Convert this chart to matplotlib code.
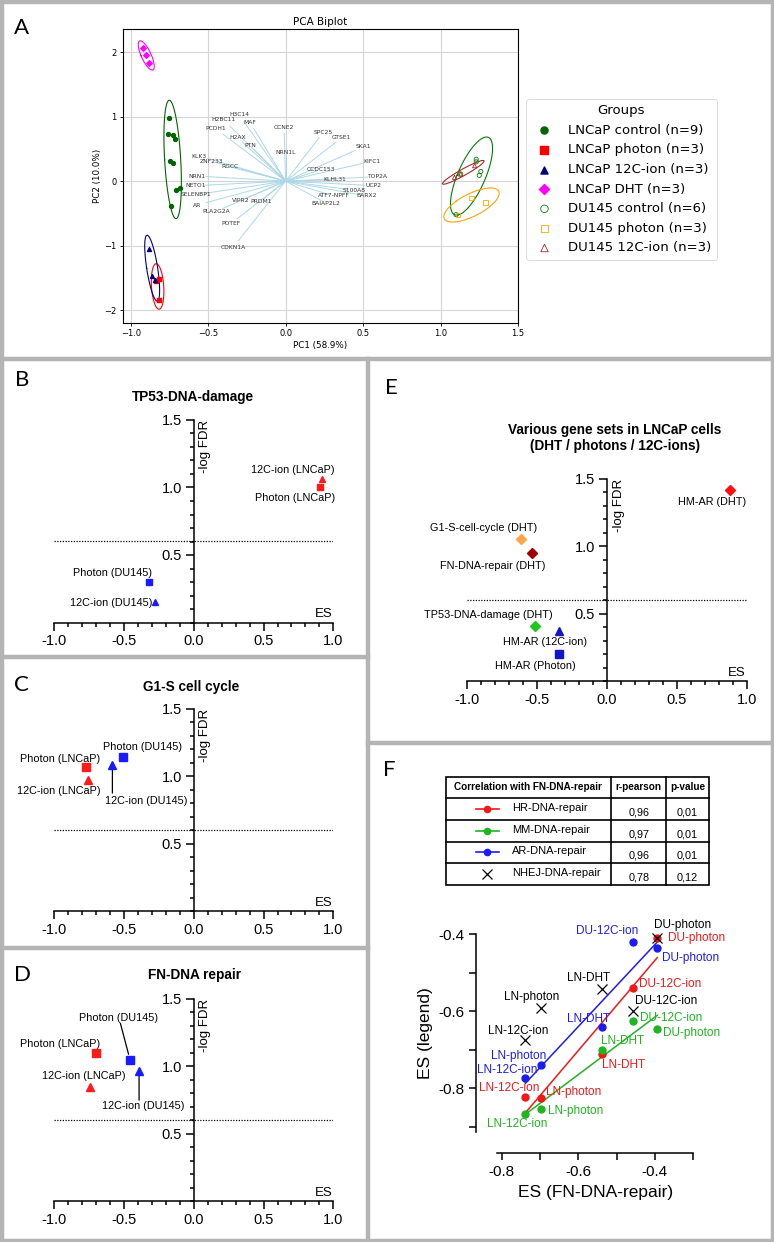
import numpy as np
import matplotlib
matplotlib.use('Agg')
import matplotlib.pyplot as plt
from matplotlib.lines import Line2D
from matplotlib.patches import Rectangle
from matplotlib.ticker import MultipleLocator

W, H = 774, 1242
ARIAL = 'Liberation Sans'
LETTER = ['Lato', 'Open Sans', 'DejaVu Sans']

# ---------------- panel A : PCA biplot ----------------
ln_ctrl_x = [-0.75, -0.76, -0.73, -0.715, -0.745, -0.73, -0.71, -0.685, -0.74]
ln_ctrl_y = [0.98, 0.73, 0.72, 0.65, 0.31, 0.28, -0.14, -0.11, -0.39]
ln_photon_x = [-0.82, -0.84, -0.82]
ln_photon_y = [-1.51, -1.55, -1.84]
ln_ion_x = [-0.88, -0.86, -0.845]
ln_ion_y = [-1.05, -1.47, -1.53]
ln_dht_x = [-0.92, -0.90, -0.88]
ln_dht_y = [2.06, 1.96, 1.83]
du_ctrl_x = [1.23, 1.23, 1.26, 1.25, 1.13, 1.10]
du_ctrl_y = [0.34, 0.30, 0.15, 0.09, 0.11, -0.52]
du_photon_x = [1.20, 1.29, 1.11]
du_photon_y = [-0.26, -0.33, -0.52]
du_ion_x = [1.22, 1.13, 1.09]
du_ion_y = [0.24, 0.11, 0.06]

gene_names = ['H3C14', 'H2BC11', 'MAF', 'PCDH1', 'H2AX', 'PTN', 'CCNE2', 'NRN1L',
              'SPC25', 'GTSE1', 'SKA1', 'KIFC1', 'CCDC153', 'TOP2A', 'KLHL31', 'UCP2',
              'S100A8', 'BARX2', 'ATF7-NPFF', 'BAIAP2L2', 'KLK3', 'ZNF233', 'RGCC',
              'NRN1', 'NETO1', 'SELENBP1', 'AR', 'PLA2G2A', 'VIPR2', 'PRDM1', 'POTEF',
              'CDKN1A']
gene_x = [-0.30, -0.40, -0.23, -0.45, -0.31, -0.23, -0.01, 0.00, 0.24, 0.36, 0.50,
          0.56, 0.23, 0.59, 0.32, 0.57, 0.44, 0.52, 0.31, 0.26, -0.56, -0.48, -0.36,
          -0.57, -0.58, -0.58, -0.57, -0.45, -0.29, -0.16, -0.35, -0.34]
gene_y = [1.03, 0.95, 0.91, 0.81, 0.67, 0.55, 0.83, 0.44, 0.75, 0.67, 0.53, 0.31,
          0.18, 0.07, 0.02, -0.07, -0.14, -0.23, -0.23, -0.34, 0.39, 0.31, 0.22, 0.08,
          -0.07, -0.21, -0.37, -0.47, -0.30, -0.31, -0.65, -1.03]

# ---------------- panels B, C, D ----------------
bcd_labels = ['Photon (LNCaP)', '12C-ion (LNCaP)', 'Photon (DU145)', '12C-ion (DU145)']
b_es = [0.905, 0.915, -0.317, -0.28]
b_fdr = [1.00, 1.06, 0.30, 0.155]
c_es = [-0.771, -0.76, -0.506, -0.582]
c_fdr = [1.067, 0.975, 1.143, 1.087]
d_es = [-0.697, -0.74, -0.456, -0.391]
d_fdr = [1.097, 0.847, 1.047, 0.965]

# ---------------- panel E ----------------
e_labels = ['HM-AR (DHT)', 'G1-S-cell-cycle (DHT)', 'FN-DNA-repair (DHT)',
            'TP53-DNA-damage (DHT)', 'HM-AR (12C-ion)', 'HM-AR (Photon)']
e_es = [0.878, -0.618, -0.535, -0.513, -0.341, -0.341]
e_fdr = [1.414, 1.054, 0.951, 0.411, 0.372, 0.20]

# ---------------- panel F ----------------
f_sets = ['HR-DNA-repair', 'MM-DNA-repair', 'AR-DNA-repair', 'NHEJ-DNA-repair']
f_r = ['0,96', '0,97', '0,96', '0,78']
f_p = ['0,01', '0,01', '0,01', '0,12']
f_samples = ['LN-12C-ion', 'LN-photon', 'LN-DHT', 'DU-12C-ion', 'DU-photon']
f_fn = [-0.738, -0.698, -0.539, -0.457, -0.394]
f_hr = [-0.823, -0.825, -0.712, -0.540, -0.410]
f_mm = [-0.868, -0.855, -0.700, -0.625, -0.648]
f_ar = [-0.775, -0.741, -0.642, -0.422, -0.437]
f_nhej = [-0.675, -0.591, -0.542, -0.599, -0.410]

fig = plt.figure(figsize=(W / 100, H / 100), dpi=100)


def conf_ellipse(x, y, n_std=1.95):
    # covariance ellipse, with a small floor so 3-point groups are not flat
    cov = np.cov(x, y) + np.eye(2) * 3e-4
    vals, vecs = np.linalg.eigh(cov)
    t = np.linspace(0, 2 * np.pi, 120)
    circ = np.vstack([np.cos(t), np.sin(t)])
    pts = vecs @ (np.sqrt(vals)[:, None] * circ) * n_std
    return np.mean(x) + pts[0], np.mean(y) + pts[1]


# ===== A =====
axA = fig.add_axes([123 / W, 1 - 323 / H, 395 / W, 294 / H])
axA.set_xlim(-1.05, 1.5)
axA.set_ylim(-2.2, 2.36)
axA.grid(True, color='#d4d4d4', lw=0.8)
axA.set_axisbelow(True)
axA.set_xticks([-1.0, -0.5, 0.0, 0.5, 1.0, 1.5])
axA.set_yticks([-2, -1, 0, 1, 2])
axA.tick_params(labelsize=6, length=2.5, width=0.6, pad=2)
for s in axA.spines.values():
    s.set_linewidth(0.8)
axA.set_title('PCA Biplot', fontsize=7.5, pad=3)
axA.set_xlabel('PC1 (58.9%)', fontsize=6.3, labelpad=2)
axA.set_ylabel('PC2 (10.0%)', fontsize=6.3, labelpad=2)

for g, gx, gy in zip(gene_names, gene_x, gene_y):
    axA.plot([0, 0.9 * gx], [0, 0.9 * gy], color='lightblue', lw=0.7, zorder=1)
    axA.text(gx, gy, g, fontsize=4.3, ha='center', va='center', color='#333333', zorder=2)

groups = [
    ('LNCaP control (n=9)', ln_ctrl_x, ln_ctrl_y, 'o', 'darkgreen', True),
    ('LNCaP photon (n=3)', ln_photon_x, ln_photon_y, 's', 'red', True),
    ('LNCaP 12C-ion (n=3)', ln_ion_x, ln_ion_y, '^', 'navy', True),
    ('LNCaP DHT (n=3)', ln_dht_x, ln_dht_y, 'D', 'magenta', True),
    ('DU145 control (n=6)', du_ctrl_x, du_ctrl_y, 'o', 'green', False),
    ('DU145 photon (n=3)', du_photon_x, du_photon_y, 's', 'orange', False),
    ('DU145 12C-ion (n=3)', du_ion_x, du_ion_y, '^', 'brown', False),
]
handles = []
for name, gx, gy, m, c, filled in groups:
    ex, ey = conf_ellipse(gx, gy)
    axA.plot(ex, ey, color=c, lw=0.8, zorder=3)
    if filled:
        h = axA.scatter(gx, gy, marker=m, s=8, color=c, zorder=4, label=name)
    else:
        h = axA.scatter(gx, gy, marker=m, s=9, facecolors='none', edgecolors=c,
                        linewidths=0.6, zorder=4, label=name)
    handles.append(h)
leg = axA.legend(handles=handles, loc='upper left', bbox_to_anchor=(526 / W, 1 - 99 / H),
                 bbox_transform=fig.transFigure, title='Groups', fontsize=9.5,
                 title_fontsize=9.5, markerscale=1.8, borderaxespad=0, frameon=True)
leg.get_frame().set_linewidth(0.6)

fig.text(22 / W, 1 - 28 / H, 'A', fontsize=16, family=LETTER, ha='center', va='center')


# ===== B - E : enrichment plots =====
def gsea_panel(px_left, py_zero, title, title_xy, letter, letter_xy):
    ax = fig.add_axes([px_left / W, 1 - py_zero / H, 279.4 / W, 202.5 / H])
    ax.set_xlim(-1, 1)
    ax.set_ylim(0, 1.5)
    ax.patch.set_visible(False)
    ax.spines['top'].set_visible(False)
    ax.spines['right'].set_visible(False)
    ax.spines['left'].set_position(('data', 0))
    ax.spines['left'].set_linewidth(1.1)
    ax.spines['bottom'].set_linewidth(1.1)
    xt = [-1.0, -0.5, 0.0, 0.5, 1.0]
    yt = [0.5, 1.0, 1.5]
    ax.set_xticks(xt)
    ax.set_xticklabels([f'{v:.1f}' for v in xt])
    ax.set_yticks(yt)
    ax.set_yticklabels([f'{v:.1f}' for v in yt])
    ax.xaxis.set_minor_locator(MultipleLocator(0.1))
    ax.yaxis.set_minor_locator(MultipleLocator(0.1))
    ax.tick_params(which='major', length=5.5, width=1.1, labelsize=10.5,
                   labelfontfamily=ARIAL, pad=3)
    ax.tick_params(which='minor', length=3, width=1.1)
    ax.axhline(-np.log10(0.25), color='black', lw=0.9, ls=(0, (1, 1.2)))
    ax.text(0.04, 1.5, '-log FDR', rotation=90, ha='left', va='top', fontsize=9.5,
            family=ARIAL)
    ax.text(0.995, 0.015, 'ES', ha='right', va='bottom', fontsize=9.5, family=ARIAL)
    fig.text(title_xy[0] / W, 1 - title_xy[1] / H, title, ha='center', va='center',
             fontsize=9.8, fontweight='bold', family=ARIAL, linespacing=1.2)
    fig.text(letter_xy[0] / W, 1 - letter_xy[1] / H, letter, ha='center', va='center',
             fontsize=16, family=LETTER)
    return ax


RED, BLUE = '#ff1a1a', '#1a1aff'
bcd_markers = ['s', '^', 's', '^']
bcd_colors = [RED, RED, BLUE, BLUE]


def draw_points(ax, xs, ys, markers, colors, ms):
    for x, y, m, c in zip(xs, ys, markers, colors):
        ax.plot([x], [y], marker=m, color=c, ms=ms, ls='none', clip_on=False, zorder=5)


# B
axB = gsea_panel(54, 622.5, 'TP53-DNA-damage', (193, 397), 'B', (22, 380))
draw_points(axB, b_es, b_fdr, bcd_markers, bcd_colors, 5)
b_lab_pos = [(1.015, 0.92), (1.01, 1.13), (-0.298, 0.364), (-0.298, 0.143)]
for lab, (lx, ly) in zip(bcd_labels, b_lab_pos):
    axB.text(lx, ly, lab, ha='right', va='center', fontsize=7.8, family=ARIAL)

# C
axC = gsea_panel(54, 911.3, 'G1-S cell cycle', (191, 687), 'C', (21, 685))
draw_points(axC, c_es, c_fdr, bcd_markers, bcd_colors, 5.2)
c_lab_pos = [(-0.668, 1.129), (-0.668, 0.889), (-0.084, 1.215), (-0.043, 0.814)]
for lab, (lx, ly) in zip(bcd_labels, c_lab_pos):
    axC.text(lx, ly, lab, ha='right', va='center', fontsize=7.8, family=ARIAL)
axC.annotate('', xy=(c_es[3], c_fdr[3]), xytext=(c_es[3], 0.876),
             arrowprops=dict(arrowstyle='-', lw=0.9, color='black', shrinkA=0, shrinkB=4))

# D
axD = gsea_panel(54, 1201, 'FN-DNA repair', (194, 975), 'D', (22, 975))
draw_points(axD, d_es, d_fdr, bcd_markers, bcd_colors, 5.2)
d_lab_pos = [(-0.668, 1.163), (-0.489, 0.926), (-0.258, 1.359), (-0.067, 0.703)]
for lab, (lx, ly) in zip(bcd_labels, d_lab_pos):
    axD.text(lx, ly, lab, ha='right', va='center', fontsize=7.8, family=ARIAL)
axD.annotate('', xy=(d_es[2], d_fdr[2]), xytext=(-0.525, 1.317),
             arrowprops=dict(arrowstyle='-', lw=0.9, color='black', shrinkA=0, shrinkB=4))
axD.annotate('', xy=(d_es[3], d_fdr[3]), xytext=(d_es[3], 0.747),
             arrowprops=dict(arrowstyle='-', lw=0.9, color='black', shrinkA=0, shrinkB=4))

# E
axE = gsea_panel(467.3, 681.3, 'Various gene sets in LNCaP cells\n(DHT / photons / 12C-ions)',
                 (615, 438), 'E', (391, 388))
e_markers = ['D', 'D', 'D', 'D', '^', 's']
e_colors = ['#ff1010', '#ffa544', '#a00000', '#22c422', '#1414c8', '#1414c8']
e_ms = [4.6, 4.6, 4.6, 4.6, 6, 6]
for x, y, m, c, s in zip(e_es, e_fdr, e_markers, e_colors, e_ms):
    axE.plot([x], [y], marker=m, color=c, ms=s, ls='none', clip_on=False, zorder=5)
e_lab_pos = [(0.754, 1.325), (-0.883, 1.133), (-0.816, 0.852), (-0.847, 0.488),
             (-0.446, 0.293), (-0.511, 0.113)]
for lab, (lx, ly) in zip(e_labels, e_lab_pos):
    axE.text(lx, ly, lab, ha='center', va='center', fontsize=7.8, family=ARIAL)

# ===== F =====
fig.text(389 / W, 1 - 770 / H, 'F', fontsize=16, family=LETTER, ha='center', va='center')
F_RED, F_GREEN, F_BLUE = '#f01818', '#20b420', '#1c1cf0'
f_colors = [F_RED, F_GREEN, F_BLUE, 'black']

axT = fig.add_axes([446 / W, 1 - 885 / H, 263 / W, 108.3 / H])
axT.set_xlim(0, 1)
axT.set_ylim(0, 1)
axT.axis('off')
col_edges = [0, 0.626, 0.837, 1.0]
row_edges = [1.0, 0.806, 0.600, 0.400, 0.201, 0.0]
axT.add_patch(Rectangle((0, 0), 1, 1, fill=False, lw=1.2, clip_on=False))
for ye in row_edges[1:-1]:
    axT.plot([0, 1], [ye, ye], color='black', lw=1.2, clip_on=False)
for xe in col_edges[1:-1]:
    axT.plot([xe, xe], [0, 1], color='black', lw=1.2, clip_on=False)
hc = (row_edges[0] + row_edges[1]) / 2
axT.text(0.313, hc, 'Correlation with FN-DNA-repair', ha='center', va='center',
         fontsize=7.2, fontweight='bold', family=ARIAL)
axT.text(0.733, hc, 'r-pearson', ha='center', va='center', fontsize=7.2,
         fontweight='bold', family=ARIAL)
axT.text(0.918, hc, 'p-value', ha='center', va='center', fontsize=7.2,
         fontweight='bold', family=ARIAL)
for i, (name, r, p, c) in enumerate(zip(f_sets, f_r, f_p, f_colors)):
    yc = (row_edges[i + 1] + row_edges[i + 2]) / 2
    if name.startswith('NHEJ'):
        axT.plot([0.156], [yc], marker='x', color=c, ms=6.5, mew=0.9, ls='none')
    else:
        axT.plot([0.114, 0.202], [yc, yc], color=c, lw=1.2)
        axT.plot([0.156], [yc], marker='o', color=c, ms=4.5, ls='none')
    axT.text(0.25, yc + 0.01, name, ha='left', va='center', fontsize=8, family=ARIAL)
    axT.text(0.733, yc - 0.03, r, ha='center', va='center', fontsize=7.8, family=ARIAL)
    axT.text(0.918, yc - 0.03, p, ha='center', va='center', fontsize=7.8, family=ARIAL)

axF = fig.add_axes([476 / W, 1 - 1152.7 / H, 218 / W, 218.7 / H])
axF.set_xlim(-0.867, -0.298)
axF.set_ylim(-0.968, -0.4)
axF.patch.set_visible(False)
axF.spines['top'].set_visible(False)
axF.spines['right'].set_visible(False)
axF.spines['left'].set_bounds(-0.913, -0.4)
axF.spines['bottom'].set_bounds(-0.813, -0.3)
axF.spines['left'].set_linewidth(1.1)
axF.spines['bottom'].set_linewidth(1.1)
fxt = [-0.8, -0.6, -0.4]
axF.set_xticks(fxt)
axF.set_xticklabels([f'{v:.1f}' for v in fxt])
axF.set_xticks([-0.7, -0.5, -0.3], minor=True)
axF.set_yticks(fxt)
axF.set_yticklabels([f'{v:.1f}' for v in fxt])
axF.set_yticks([-0.9, -0.7, -0.5], minor=True)
axF.tick_params(which='both', length=5, width=1.1, labelsize=11, labelfontfamily=ARIAL)

f_series = [(f_hr, F_RED), (f_mm, F_GREEN), (f_ar, F_BLUE)]
for ys, c in f_series:
    k, b = np.polyfit(f_fn, ys, 1)
    xx = np.array([min(f_fn), max(f_fn)])
    axF.plot(xx, k * xx + b, color=c, lw=1.1, zorder=3)
for ys, c in f_series:
    axF.plot(f_fn, ys, 'o', color=c, ms=5, ls='none', clip_on=False, zorder=4)
axF.plot(f_fn, f_nhej, 'x', color='black', ms=6.5, mew=0.9, ls='none', clip_on=False,
         zorder=5)

hr_lab = ([-0.780, -0.611, -0.483, -0.361, -0.292], [-0.801, -0.811, -0.741, -0.531, -0.41])
mm_lab = ([-0.76, -0.606, -0.485, -0.359, -0.304], [-0.894, -0.859, -0.678, -0.619, -0.658])
ar_lab = ([-0.785, -0.757, -0.574, -0.524, -0.306], [-0.753, -0.716, -0.621, -0.392, -0.463])
nhej_lab = ([-0.757, -0.722, -0.574, -0.372, -0.328], [-0.652, -0.564, -0.515, -0.574, -0.377])
for (lxs, lys), c in [(hr_lab, F_RED), (mm_lab, F_GREEN), (ar_lab, F_BLUE),
                      (nhej_lab, 'black')]:
    for s, lx, ly in zip(f_samples, lxs, lys):
        axF.text(lx, ly, s, color=c, ha='center', va='center', fontsize=8.5,
                 family=ARIAL, clip_on=False, zorder=6)
fig.text(425 / W, 1 - 1033 / H, 'ES (legend)', rotation=90, ha='center', va='center',
         fontsize=12.5, family=ARIAL)
fig.text(596 / W, 1 - 1193 / H, 'ES (FN-DNA-repair)', ha='center', va='center',
         fontsize=12.5, family=ARIAL)

# ===== panel frames =====
GRAY = '#b4b4b4'
frame_lines = [
    ((1.5, 1.5), (0, H)), ((W - 1.5, W - 1.5), (0, H)),
    ((0, W), (1.5, 1.5)), ((0, W), (H - 1.5, H - 1.5)),
    ((0, W), (359, 359)), ((368, 368), (359, H)),
    ((0, 368), (657, 657)), ((0, 368), (948, 948)), ((368, W), (743, 743)),
]
for (x0, x1), (y0, y1) in frame_lines:
    fig.add_artist(Line2D([x0 / W, x1 / W], [1 - y0 / H, 1 - y1 / H],
                          transform=fig.transFigure, color=GRAY, lw=3.2))

fig.savefig('out.png', dpi=100, facecolor='white')
